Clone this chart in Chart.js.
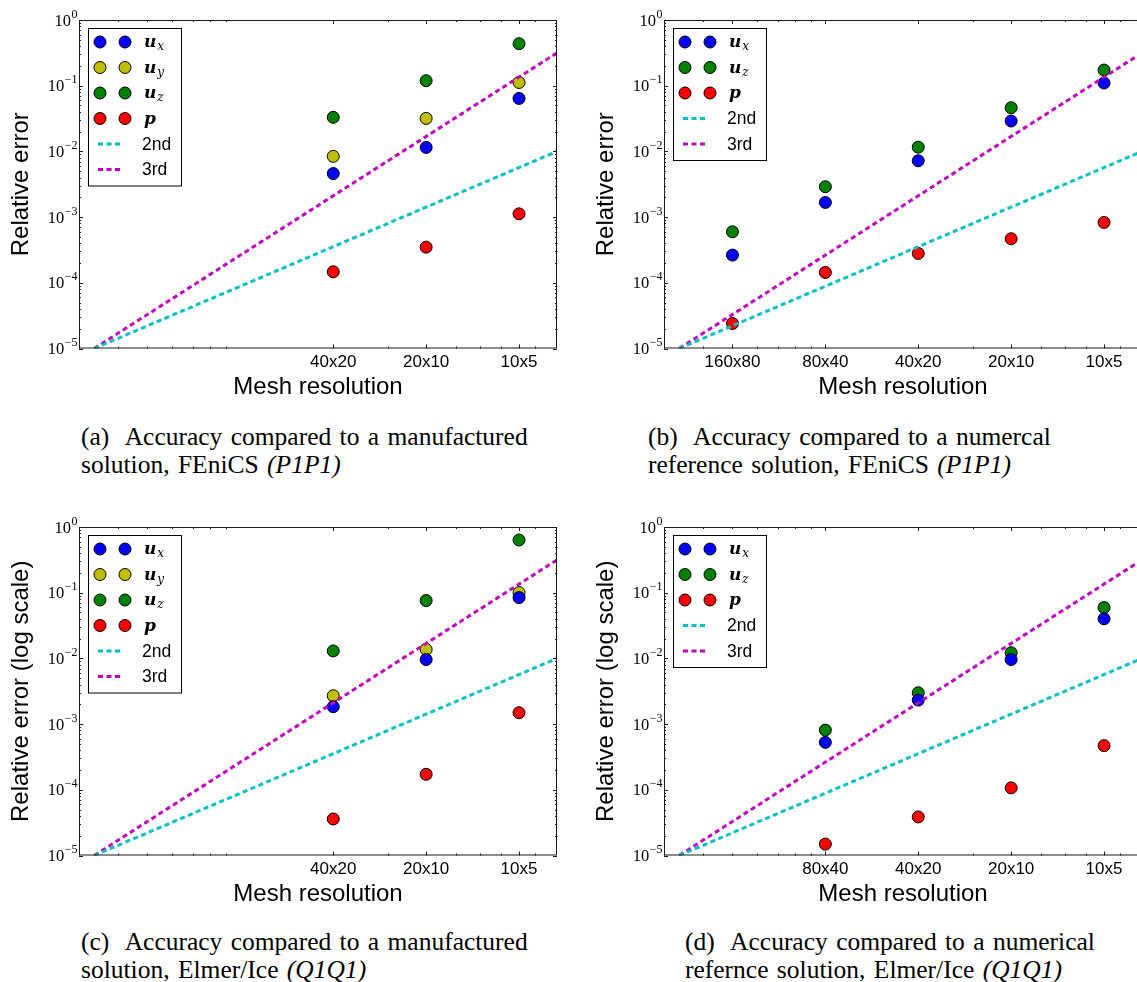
<!DOCTYPE html>
<html>
<head>
<meta charset="utf-8">
<title>Relative error vs mesh resolution</title>
<script src="https://cdn.jsdelivr.net/npm/chart.js@4.4.0/dist/chart.umd.min.js"></script>
<style>
  html, body { margin: 0; padding: 0; background: #fff; overflow: hidden; width: 1137px; height: 982px; }
  canvas { position: absolute; }
  .cap { position: absolute; font-family: 'Liberation Serif', 'Times New Roman', serif; font-size: 25.5px; line-height: 28px; white-space: pre; color: #000; word-spacing: 2px; }
</style>
</head>
<body>
<canvas id="chartA" width="570" height="402" style="left:0px;top:0px"></canvas>
<canvas id="chartB" width="570" height="402" style="left:585px;top:0px"></canvas>
<canvas id="chartC" width="570" height="402" style="left:0px;top:507px"></canvas>
<canvas id="chartD" width="570" height="402" style="left:585px;top:507px"></canvas>

<div class="cap" style="left:81px;top:423px">(a)  Accuracy compared to a manufactured</div>
<div class="cap" style="left:81px;top:451px">solution, FEniCS <i>(P1P1)</i></div>
<div class="cap" style="left:648px;top:423px">(b)  Accuracy compared to a numercal</div>
<div class="cap" style="left:648px;top:451px">reference solution, FEniCS <i>(P1P1)</i></div>
<div class="cap" style="left:81px;top:928px">(c)  Accuracy compared to a manufactured</div>
<div class="cap" style="left:81px;top:956px">solution, Elmer/Ice <i>(Q1Q1)</i></div>
<div class="cap" style="left:685px;top:928px">(d)  Accuracy compared to a numerical</div>
<div class="cap" style="left:685px;top:956px">refernce solution, Elmer/Ice <i>(Q1Q1)</i></div>

<script>
'use strict';

// mesh size h (km) behind each resolution label
let meshSize = [0.5, 1, 2, 4, 8];
let meshLabels = ['160x80', '80x40', '40x20', '20x10', '10x5'];

// (a) FEniCS, manufactured solution : 40x20, 20x10, 10x5
let uxA = [0.0046, 0.0115, 0.064];
let uyA = [0.0084, 0.0318, 0.112];
let uzA = [0.033, 0.119, 0.436];
let pA = [1.47e-4, 3.49e-4, 1.12e-3];

// (b) FEniCS, numerical reference : 160x80 .. 10x5
let uxB = [2.64e-4, 1.67e-3, 7.2e-3, 0.029, 0.110];
let uzB = [5.98e-4, 2.90e-3, 0.0116, 0.0462, 0.173];
let pB = [2.40e-5, 1.44e-4, 2.8e-4, 4.68e-4, 8.3e-4];

// (c) Elmer/Ice, manufactured solution : 40x20, 20x10, 10x5
let uxC = [1.84e-3, 9.6e-3, 0.0843];
let uyC = [2.70e-3, 0.0137, 0.1005];
let uzC = [0.0130, 0.0759, 0.634];
let pC = [3.6e-5, 1.72e-4, 1.49e-3];

// (d) Elmer/Ice, numerical reference : 80x40 .. 10x5
let uxD = [5.27e-4, 2.32e-3, 9.6e-3, 0.040];
let uzD = [8.1e-4, 3.0e-3, 0.0122, 0.0594];
let pD = [1.49e-5, 3.87e-5, 1.07e-4, 4.7e-4];

// reference slopes, drawn across the whole x range
let refX = [0.336, 10.62];
let ref2nd = [1e-5, 1e-2];
let ref3rd = [1e-5, 0.316];

let yTicks = [1e-5, 1e-4, 1e-3, 1e-2, 1e-1, 1];

let colors = { ux: '#0000ff', uy: '#bfbf00', uz: '#008000', p: '#ff0000', second: '#00bfbf', third: '#bf00bf' };

// frame, inward ticks on all four sides and 10^n labels (matplotlib look)
let frameTicks = {
  id: 'frameTicks',
  afterDatasetsDraw(chart){
    let ctx = chart.ctx;
    let a = chart.chartArea;
    let xs = chart.scales.x;
    let ys = chart.scales.y;
    ctx.save();
    ctx.strokeStyle = '#1a1a1a';
    ctx.lineWidth = 1;
    ctx.beginPath();
    let majorX = xs.ticks.map(t => t.value);
    for (let k = -6; k <= 1; k++){
      for (let m = 1; m <= 9; m++){
        let v = m * Math.pow(10, k);
        // x minor ticks
        if (m > 1 && v > xs.min && v < xs.max && !majorX.some(t => Math.abs(t - v) < 1e-9)){
          let px = Math.round(xs.getPixelForValue(v)) + 0.5;
          ctx.moveTo(px, a.bottom); ctx.lineTo(px, a.bottom - 2);
          ctx.moveTo(px, a.top); ctx.lineTo(px, a.top + 2);
        }
        // y ticks
        if (v >= ys.min && v <= ys.max){
          let py = Math.round(ys.getPixelForValue(v)) + 0.5;
          let len = m === 1 ? 4 : 2;
          ctx.moveTo(a.left, py); ctx.lineTo(a.left + len, py);
          ctx.moveTo(a.right, py); ctx.lineTo(a.right - len, py);
        }
      }
    }
    majorX.forEach(v => {
      let px = Math.round(xs.getPixelForValue(v)) + 0.5;
      ctx.moveTo(px, a.bottom); ctx.lineTo(px, a.bottom - 4);
      ctx.moveTo(px, a.top); ctx.lineTo(px, a.top + 4);
    });
    ctx.stroke();
    ctx.strokeRect(a.left + 0.5, a.top + 0.5, a.right - a.left - 1, a.bottom - a.top - 1);

    // y tick labels as 10 with a raised exponent
    ctx.fillStyle = '#000';
    ctx.textBaseline = 'alphabetic';
    ctx.textAlign = 'left';
    ys.ticks.forEach(t => {
      let py = ys.getPixelForValue(t.value);
      let e = Math.round(Math.log10(t.value));
      let expText = e < 0 ? '\u2212' + (-e) : String(e);
      ctx.font = "16.5px 'Liberation Serif', serif";
      let w1 = ctx.measureText('10').width;
      ctx.font = "12px 'Liberation Serif', serif";
      let w2 = ctx.measureText(expText).width;
      let x0 = a.left - 2 - w1 - w2;
      ctx.font = "16.5px 'Liberation Serif', serif";
      ctx.fillText('10', x0, py + 5.5);
      ctx.font = "12px 'Liberation Serif', serif";
      ctx.fillText(expText, x0 + w1 + 0.5, py - 2.5);
    });
    ctx.restore();
  }
};

// legend box in the upper left corner, two markers per entry
let boxLegend = {
  id: 'boxLegend',
  afterDraw(chart){
    let ctx = chart.ctx;
    let a = chart.chartArea;
    let sets = chart.data.datasets;
    let left = a.left + 9;
    let top = a.top + 8;
    let rowH = 25.5;
    let h = 30 + (sets.length - 1) * rowH;
    ctx.save();
    ctx.fillStyle = '#fff';
    ctx.fillRect(left, top, 93, h);
    ctx.strokeStyle = '#000';
    ctx.lineWidth = 1;
    ctx.strokeRect(left + 0.5, top + 0.5, 93, h);
    sets.forEach((ds, i) => {
      let cy = top + 14 + i * rowH;
      if (ds.showLine){
        ctx.strokeStyle = ds.borderColor;
        ctx.lineWidth = 3;
        ctx.setLineDash([5, 3.5]);
        ctx.beginPath();
        ctx.moveTo(left + 10, cy); ctx.lineTo(left + 34, cy);
        ctx.stroke();
        ctx.setLineDash([]);
        ctx.fillStyle = '#000';
        ctx.font = "17.5px 'Liberation Sans', Arial, sans-serif";
        ctx.textBaseline = 'middle';
        ctx.textAlign = 'left';
        ctx.fillText(ds.label, left + 54, cy + 1);
      } else {
        [12, 37].forEach(dx => {
          ctx.beginPath();
          ctx.arc(left + dx, cy, 6, 0, Math.PI * 2);
          ctx.fillStyle = ds.pointBackgroundColor;
          ctx.fill();
          ctx.lineWidth = 1;
          ctx.strokeStyle = '#000';
          ctx.stroke();
        });
        // math label: italic base + subscript
        let parts = ds.label.split('_');
        ctx.fillStyle = '#000';
        ctx.textBaseline = 'alphabetic';
        ctx.textAlign = 'left';
        ctx.font = "italic bold 17px 'DejaVu Serif', serif";
        ctx.fillText(parts[0], left + 56, cy + 5);
        if (parts[1]){
          let w = ctx.measureText(parts[0]).width;
          ctx.font = "italic 12px 'DejaVu Serif', serif";
          ctx.fillText(parts[1], left + 56 + w + 1, cy + 8);
        }
      }
    });
    ctx.restore();
  }
};

function refLine(label, yVals, color){
  return {
    label: label,
    type: 'line',
    showLine: true,
    data: refX.map((x, i) => ({ x: x, y: yVals[i] })),
    borderColor: color,
    borderWidth: 3,
    borderDash: [5, 3.5],
    pointRadius: 0,
    fill: false,
    order: 0
  };
}

function pointSet(label, xVals, yVals, color){
  return {
    label: label,
    showLine: false,
    data: xVals.map((x, i) => ({ x: x, y: yVals[i] })),
    pointRadius: 6,
    pointHoverRadius: 6,
    pointBackgroundColor: color,
    pointBorderColor: '#000',
    pointBorderWidth: 1,
    backgroundColor: color,
    borderColor: '#000',
    order: 1
  };
}

function makeChart(id, first, series, yTitle){
  let xVals = meshSize.slice(first);
  let xLabels = meshLabels.slice(first);
  let datasets = series.map(s => pointSet(s[0], xVals, s[1], s[2]));
  datasets.push(refLine('2nd', ref2nd, colors.second));
  datasets.push(refLine('3rd', ref3rd, colors.third));

  return new Chart(document.getElementById(id), {
    type: 'scatter',
    data: { datasets: datasets },
    plugins: [frameTicks, boxLegend],
    options: {
      responsive: false,
      animation: false,
      layout: { padding: { top: 20, right: 13, left: 0, bottom: 0 } },
      plugins: { legend: { display: false }, tooltip: { enabled: false } },
      scales: {
        x: {
          type: 'logarithmic',
          position: 'bottom',
          min: refX[0],
          max: refX[1],
          afterBuildTicks: s => { s.ticks = xVals.map(v => ({ value: v })); },
          afterFit: s => { s.height = 53.5; },
          grid: { display: false, drawTicks: false },
          border: { display: false },
          ticks: {
            autoSkip: false, maxRotation: 0, padding: 4, color: '#000',
            font: { family: "'Liberation Sans', Arial, sans-serif", size: 17 },
            callback: (v, i) => xLabels[i]
          },
          title: {
            display: true, text: 'Mesh resolution', color: '#000',
            font: { family: "'Liberation Sans', Arial, sans-serif", size: 24 },
            padding: { top: 0, bottom: 0 }
          }
        },
        y: {
          type: 'logarithmic',
          min: yTicks[0],
          max: yTicks[yTicks.length - 1],
          afterBuildTicks: s => { s.ticks = yTicks.map(v => ({ value: v })); },
          afterFit: s => { s.width = 79; },
          grid: { display: false, drawTicks: false },
          border: { display: false },
          // labels are drawn by frameTicks with a real superscript
          ticks: { display: false },
          title: {
            display: true, text: yTitle, color: '#000',
            font: { family: "'Liberation Sans', Arial, sans-serif", size: 24 },
            padding: { top: 7, bottom: 0 }
          }
        }
      }
    }
  });
}

makeChart('chartA', 2, [
  ['u_x', uxA, colors.ux],
  ['u_y', uyA, colors.uy],
  ['u_z', uzA, colors.uz],
  ['p', pA, colors.p]
], 'Relative error');

makeChart('chartB', 0, [
  ['u_x', uxB, colors.ux],
  ['u_z', uzB, colors.uz],
  ['p', pB, colors.p]
], 'Relative error');

makeChart('chartC', 2, [
  ['u_x', uxC, colors.ux],
  ['u_y', uyC, colors.uy],
  ['u_z', uzC, colors.uz],
  ['p', pC, colors.p]
], 'Relative error (log scale)');

makeChart('chartD', 1, [
  ['u_x', uxD, colors.ux],
  ['u_z', uzD, colors.uz],
  ['p', pD, colors.p]
], 'Relative error (log scale)');
</script>
</body>
</html>
